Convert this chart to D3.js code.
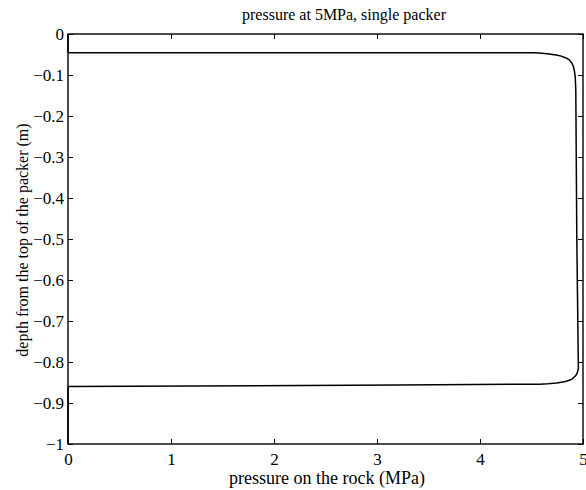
<!DOCTYPE html>
<html>
<head>
<meta charset="utf-8">
<script src="https://cdn.jsdelivr.net/npm/d3@7"></script>
<style>
  body { margin: 0; background: #fff; }
  svg { display: block; }
  text { font-family: "Liberation Serif", "Times New Roman", serif; fill: #000; }
</style>
</head>
<body>
<svg id="chart" width="586" height="490"></svg>
<script>
// Labels
const titleText = "pressure at 5MPa, single packer";
const xLabelText = "pressure on the rock (MPa)";
const yLabelText = "depth from the top of the packer (m)";

// Tick values and their printed labels
const xTickValues = [0, 1, 2, 3, 4, 5];
const xTickLabels = ["0", "1", "2", "3", "4", "5"];
const yTickValues = [0, -0.1, -0.2, -0.3, -0.4, -0.5, -0.6, -0.7, -0.8, -0.9, -1];
const yTickLabels = ["0", "\u22120.1", "\u22120.2", "\u22120.3", "\u22120.4", "\u22120.5",
                     "\u22120.6", "\u22120.7", "\u22120.8", "\u22120.9", "\u22121"];

// Pressure profile along the borehole wall (MPa vs depth in m)
const pressure = [0, 0, 2.0, 4.53, 4.60, 4.67, 4.74, 4.79, 4.84, 4.87, 4.89, 4.905, 4.915, 4.925, 4.93,
                  4.94, 4.955, 4.945, 4.93, 4.91, 4.89, 4.86, 4.82, 4.745, 4.66, 4.58, 3.22, 0, 0];
const depth = [0, -0.046, -0.046, -0.046, -0.047, -0.0485, -0.051, -0.054, -0.059, -0.064, -0.070, -0.078, -0.088, -0.105, -0.137,
               -0.5, -0.815, -0.826, -0.833, -0.838, -0.842, -0.845, -0.848, -0.851, -0.853, -0.854, -0.856, -0.860, -1];

const svg = d3.select("#chart");
const plotLeft = 68, plotRight = 583, plotTop = 34, plotBottom = 444;

const x = d3.scaleLinear().domain([0, 5]).range([plotLeft, plotRight]);
const y = d3.scaleLinear().domain([-1, 0]).range([plotBottom, plotTop]);

const textSize = 16;
const tickTextSize = 17;
const xLabelSize = 18;
const tickLen = 5;

// Data curve
const pts = pressure.map((p, i) => [p, depth[i]]);
svg.append("path")
  .datum(pts)
  .attr("fill", "none")
  .attr("stroke", "#000")
  .attr("stroke-width", 1.5)
  .attr("stroke-linejoin", "round")
  .attr("d", d3.line()
    .x(d => x(d[0]))
    .y(d => y(d[1])));

// Axes with inward ticks on all four sides
function styleAxis(g) {
  g.selectAll(".domain").remove();
  g.selectAll(".tick line").attr("stroke", "#000").attr("stroke-width", 1);
  g.selectAll(".tick text")
    .style("font-size", tickTextSize + "px")
    .attr("fill", "#000");
}

svg.append("g")
  .attr("transform", `translate(0,${plotBottom})`)
  .call(d3.axisBottom(x).tickValues(xTickValues)
    .tickFormat((d, i) => xTickLabels[i])
    .tickSizeInner(-tickLen).tickSizeOuter(0).tickPadding(9))
  .call(styleAxis);

svg.append("g")
  .attr("transform", `translate(${plotLeft},0)`)
  .call(d3.axisLeft(y).tickValues(yTickValues)
    .tickFormat((d, i) => yTickLabels[i])
    .tickSizeInner(-tickLen).tickSizeOuter(0).tickPadding(4))
  .call(styleAxis);

svg.append("g")
  .attr("transform", `translate(0,${plotTop})`)
  .call(d3.axisTop(x).tickValues(xTickValues).tickFormat("")
    .tickSizeInner(-tickLen).tickSizeOuter(0))
  .call(styleAxis);

svg.append("g")
  .attr("transform", `translate(${plotRight},0)`)
  .call(d3.axisRight(y).tickValues(yTickValues).tickFormat("")
    .tickSizeInner(-tickLen).tickSizeOuter(0))
  .call(styleAxis);

// Axes box
svg.append("rect")
  .attr("x", plotLeft).attr("y", plotTop)
  .attr("width", plotRight - plotLeft).attr("height", plotBottom - plotTop)
  .attr("fill", "none")
  .attr("stroke", "#000")
  .attr("stroke-width", 1.4);

// Title and axis labels
svg.append("text")
  .attr("x", 344).attr("y", 20)
  .attr("text-anchor", "middle")
  .style("font-size", textSize + "px")
  .text(titleText);

svg.append("text")
  .attr("x", 327).attr("y", 484)
  .attr("text-anchor", "middle")
  .style("font-size", xLabelSize + "px")
  .text(xLabelText);

svg.append("text")
  .attr("transform", "translate(28,240) rotate(-90)")
  .attr("text-anchor", "middle")
  .style("font-size", textSize + "px")
  .text(yLabelText);
</script>
</body>
</html>
